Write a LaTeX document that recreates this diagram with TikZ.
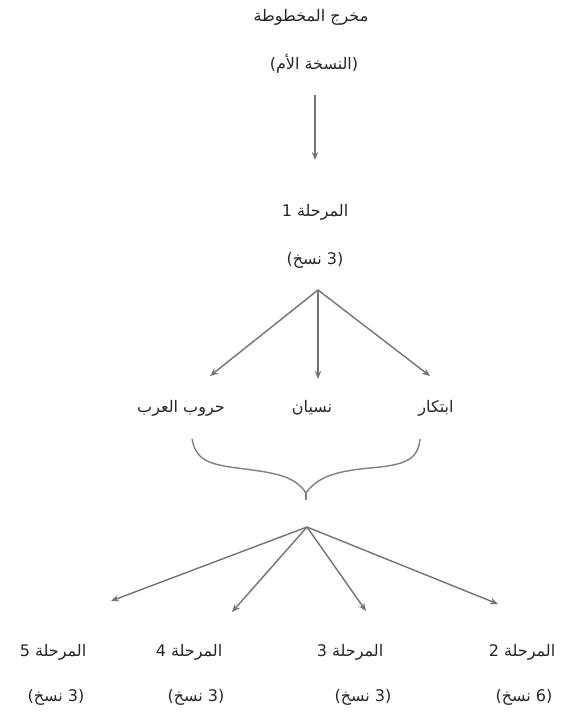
\documentclass[tikz,border=0pt]{standalone}
\usepackage{fontspec}
\newfontfamily\arabicfont[Script=Arabic]{DejaVu Sans}
\newfontfamily\latinfont{DejaVu Sans}
\TeXXeTstate=1
\usetikzlibrary{arrows.meta}
\newcommand{\copies}[1]{\mbox{\latinfont(}\mbox{\arabicfont\beginR نسخ\endR}\mbox{\latinfont\ #1)}}
\tikzset{
  lbl/.style={font=\arabicfont\fontsize{16}{18}\selectfont, text=black!85, inner sep=2pt},
  arr/.style={draw=black!55, line width=1.4pt, -{Stealth[length=8pt,width=6.5pt]}},
  brace/.style={draw=black!50, line width=1.4pt}
}
\begin{document}
\begin{tikzpicture}[x=1pt,y=-1pt]
\useasboundingbox (0,0) rectangle (570,720);
% top
\node[lbl] (t1) at (311,17) {\beginR مخرج المخطوطة\endR};
\node[lbl] (t2) at (314,64) {\mbox{\latinfont(}\mbox{\arabicfont\beginR النسخة الأم\endR}\mbox{\latinfont)}};
\coordinate (a0) at (315,95);
\node[lbl] (s1a) at (315,212) {\beginR المرحلة 1\endR};
\node[lbl] (s1b) at (315,260) {\copies{3}};
\draw[arr] (a0) -- (315,160) coordinate (a1);
% hub 1
\coordinate (h1) at (318,290);
\node[lbl] (m1) at (181,408) {\beginR حروب العرب\endR};
\node[lbl] (m2) at (312,408) {\beginR نسيان\endR};
\node[lbl] (m3) at (436,408) {\beginR ابتكار\endR};
\coordinate (e1) at (210,376);
\coordinate (e2) at (318,379);
\coordinate (e3) at (430,376);
\draw[arr] (h1) -- (e1);
\draw[arr] (h1) -- (e2);
\draw[arr] (h1) -- (e3);
% brace
\coordinate (bl) at (192,439);
\coordinate (br) at (420,439);
\coordinate (bt) at (306,493);
\draw[brace] (bl) .. controls (196,462) and (212,465) .. (245,469)
  .. controls (275,473) and (295,476) .. (bt)
  .. controls (318,476) and (338,471) .. (370,468)
  .. controls (405,465) and (418,460) .. (br);
\draw[brace] (bt) -- (306,500) coordinate (bs);
% hub 2
\coordinate (h2) at (307,527);
\node[lbl] (b1a) at (53,652) {\beginR المرحلة 5\endR};
\node[lbl] (b1b) at (56,697) {\copies{3}};
\node[lbl] (b2a) at (189,652) {\beginR المرحلة 4\endR};
\node[lbl] (b2b) at (196,697) {\copies{3}};
\node[lbl] (b3a) at (350,652) {\beginR المرحلة 3\endR};
\node[lbl] (b3b) at (363,697) {\copies{3}};
\node[lbl] (b4a) at (522,652) {\beginR المرحلة 2\endR};
\node[lbl] (b4b) at (524,697) {\copies{6}};
\draw[arr] (h2) -- (111,601) coordinate (f1);
\draw[arr] (h2) -- (232,612) coordinate (f2);
\draw[arr] (h2) -- (366,611) coordinate (f3);
\draw[arr] (h2) -- (498,604) coordinate (f4);
\end{tikzpicture}
\end{document}
